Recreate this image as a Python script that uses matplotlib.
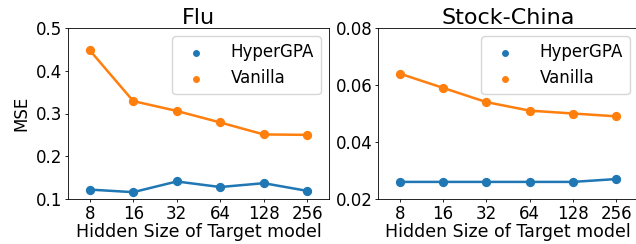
import matplotlib.pyplot as plt

sizes = ['8', '16', '32', '64', '128', '256']

flu_hyper = [0.122, 0.116, 0.141, 0.128, 0.137, 0.119]
flu_vanilla = [0.448, 0.329, 0.306, 0.279, 0.251, 0.250]

stock_hyper = [0.026, 0.026, 0.026, 0.026, 0.026, 0.027]
stock_vanilla = [0.064, 0.059, 0.054, 0.051, 0.050, 0.049]

fig = plt.figure(figsize=(6.36, 2.44), dpi=100)
ax1 = fig.add_axes([68 / 636, 45 / 244, 261 / 636, 171 / 244])
ax2 = fig.add_axes([378 / 636, 45 / 244, 260 / 636, 171 / 244])

panels = [
    (ax1, 'Flu', flu_hyper, flu_vanilla, (0.1, 0.5), [0.1, 0.2, 0.3, 0.4, 0.5]),
    (ax2, 'Stock-China', stock_hyper, stock_vanilla, (0.02, 0.08), [0.02, 0.04, 0.06, 0.08]),
]

x = list(range(len(sizes)))
for ax, title, hyper, vanilla, ylim, yticks in panels:
    ax.plot(x, hyper, color='#1f77b4', linewidth=1.8)
    ax.plot(x, vanilla, color='#ff7f0e', linewidth=1.8)
    ax.scatter(x, hyper, color='#1f77b4', s=32, zorder=3, label='HyperGPA')
    ax.scatter(x, vanilla, color='#ff7f0e', s=32, zorder=3, label='Vanilla')
    ax.set_xlim(-0.5, 5.5)
    ax.set_ylim(*ylim)
    ax.set_yticks(yticks)
    ax.set_xticks(x)
    ax.set_xticklabels(sizes)
    ax.tick_params(labelsize=12, length=2.2, pad=1.8, width=0.6)
    for sp in ax.spines.values():
        sp.set_linewidth(0.6)
    ax.set_title(title, fontsize=16, pad=3)
    ax.set_xlabel('Hidden Size of Target model', fontsize=12.5, labelpad=0)
    ax.legend(loc='upper right', fontsize=12, scatterpoints=1, markerscale=0.7,
              handletextpad=1.1, borderpad=0.4)

ax1.set_ylabel('MSE', fontsize=12, labelpad=4)

fig.savefig('out.png', dpi=100)
